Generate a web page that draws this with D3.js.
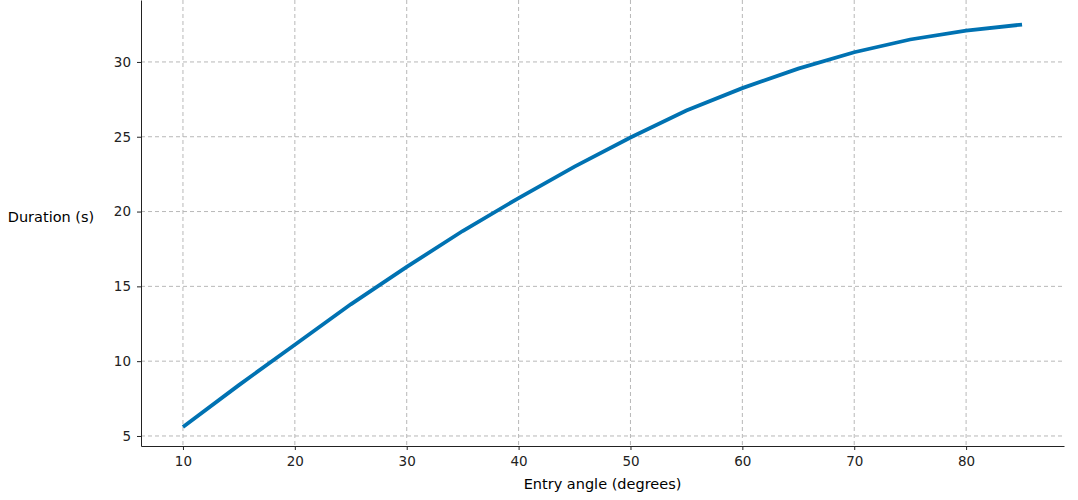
<!DOCTYPE html><html><head><meta charset="utf-8">
<script src="https://cdn.jsdelivr.net/npm/d3@7"></script>
<style>body{margin:0;background:#fff}text{font-family:"DejaVu Sans",sans-serif}</style></head><body>
<svg id="c" width="1078" height="500"></svg>
<script>
const angles=[10,15,20,25,30,35,40,45,50,55,60,65,70,75,80,85];
const durations=[5.6,8.4,11.1,13.8,16.3,18.7,20.9,23.0,24.95,26.75,28.25,29.55,30.65,31.5,32.1,32.5];
const xTicks=[10,20,30,40,50,60,70,80];
const yTicks=[5,10,15,20,25,30];
const svg=d3.select("#c");
const L=141,R=1064,T=0,B=446;
const x=d3.scaleLinear().domain([6.25,88.75]).range([L,R]);
const y=d3.scaleLinear().domain([4.33,34.14]).range([B,T]);
const g=svg.append("g");
g.selectAll(".gx").data(xTicks).join("line").attr("x1",d=>x(d)).attr("x2",d=>x(d)).attr("y1",T).attr("y2",B)
 .attr("stroke","#b0b0b0").attr("stroke-dasharray","4,3").attr("stroke-width",0.9);
g.selectAll(".gy").data(yTicks).join("line").attr("x1",L).attr("x2",R).attr("y1",d=>y(d)).attr("y2",d=>y(d))
 .attr("stroke","#b0b0b0").attr("stroke-dasharray","4,3").attr("stroke-width",0.9);
const xa=svg.append("g").attr("transform",`translate(0,${B})`).call(d3.axisBottom(x).tickValues(xTicks).tickSize(4).tickPadding(6).tickSizeOuter(0));
const ya=svg.append("g").attr("transform",`translate(${L},0)`).call(d3.axisLeft(y).tickValues(yTicks).tickSize(4).tickPadding(6).tickSizeOuter(0));
[xa,ya].forEach(a=>{a.selectAll("text").attr("font-size",13.5).attr("fill","#222").style("font-family","DejaVu Sans");a.select(".domain").attr("stroke","#222");a.selectAll(".tick line").attr("stroke","#222");});
svg.append("path").datum(angles.map((a,i)=>[a,durations[i]])).attr("fill","none").attr("stroke","#0072b2").attr("stroke-width",3.8)
 .attr("d",d3.line().x(d=>x(d[0])).y(d=>y(d[1])));
svg.append("text").attr("x",(L+R)/2).attr("y",489).attr("text-anchor","middle").attr("font-size",14.5).text("Entry angle (degrees)");
svg.append("text").attr("x",51).attr("y",222).attr("text-anchor","middle").attr("font-size",14.5).text("Duration (s)");
</script></body></html>
